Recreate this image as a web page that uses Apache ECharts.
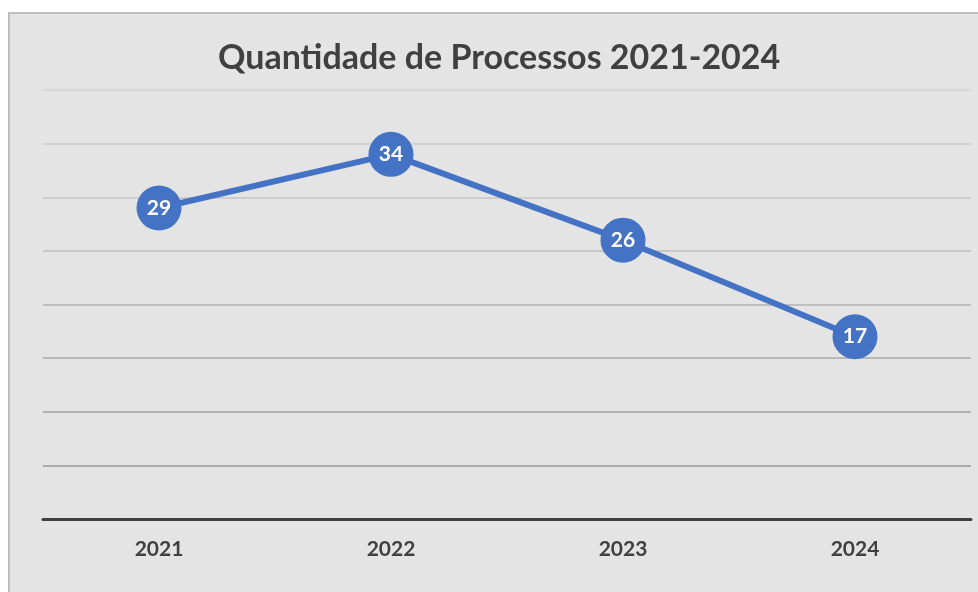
<!DOCTYPE html>
<html>
<head>
<meta charset="utf-8">
<script src="https://cdn.jsdelivr.net/npm/echarts@6/dist/echarts.min.js"></script>
<style>
  html, body { margin: 0; padding: 0; background: #fff; }
  #chart { width: 978px; height: 592px; }
</style>
</head>
<body>
<div id="chart"></div>
<script>
const years = ['2021', '2022', '2023', '2024']
const processos = [29, 34, 26, 17]
// gridline colours from value 0 upwards (darker at the bottom)
const gridColors = ['#999999', '#999999', '#a1a1a1', '#aaaaaa', '#b3b3b3', '#bcbcbc', '#c5c5c5', '#cdcdcd', '#d5d5d5']

var chartDom = document.getElementById('chart')
var myChart = echarts.init(chartDom)
var option = {
  backgroundColor: '#ffffff',
  graphic: [{
    type: 'rect',
    z: -10,
    shape: { x: 9, y: 13, width: 1000, height: 1000 },
    style: { fill: '#e4e4e4', stroke: '#bfbfbf', lineWidth: 2 }
  }],
  title: {
    text: 'Quantidade de Processos 2021-2024',
    left: 213,
    top: 36,
    textStyle: {
      fontFamily: 'Lato',
      fontWeight: 'bold',
      fontSize: 34,
      color: '#404040'
    }
  },
  grid: {
    left: 43,
    right: 7,
    top: 90,
    bottom: 73
  },
  xAxis: {
    type: 'category',
    data: years,
    boundaryGap: true,
    axisTick: { show: false },
    axisLine: { lineStyle: { color: '#404040', width: 3 } },
    axisLabel: {
      margin: 20,
      fontFamily: 'Lato',
      fontWeight: 'bold',
      fontSize: 21,
      color: '#404040'
    }
  },
  yAxis: {
    type: 'value',
    min: 0,
    max: 40,
    interval: 5,
    axisLabel: { show: false },
    axisLine: { show: false },
    axisTick: { show: false },
    splitLine: { lineStyle: { color: gridColors, width: 1.5 } }
  },
  series: [{
    type: 'line',
    data: processos,
    symbol: 'circle',
    symbolSize: 45,
    lineStyle: { color: '#4472c4', width: 6 },
    itemStyle: { color: '#4472c4' },
    label: {
      show: true,
      position: 'inside',
      fontFamily: 'Lato',
      fontWeight: 'bold',
      fontSize: 21,
      color: '#ffffff'
    }
  }]
}

option && myChart.setOption(option)
</script>
</body>
</html>
